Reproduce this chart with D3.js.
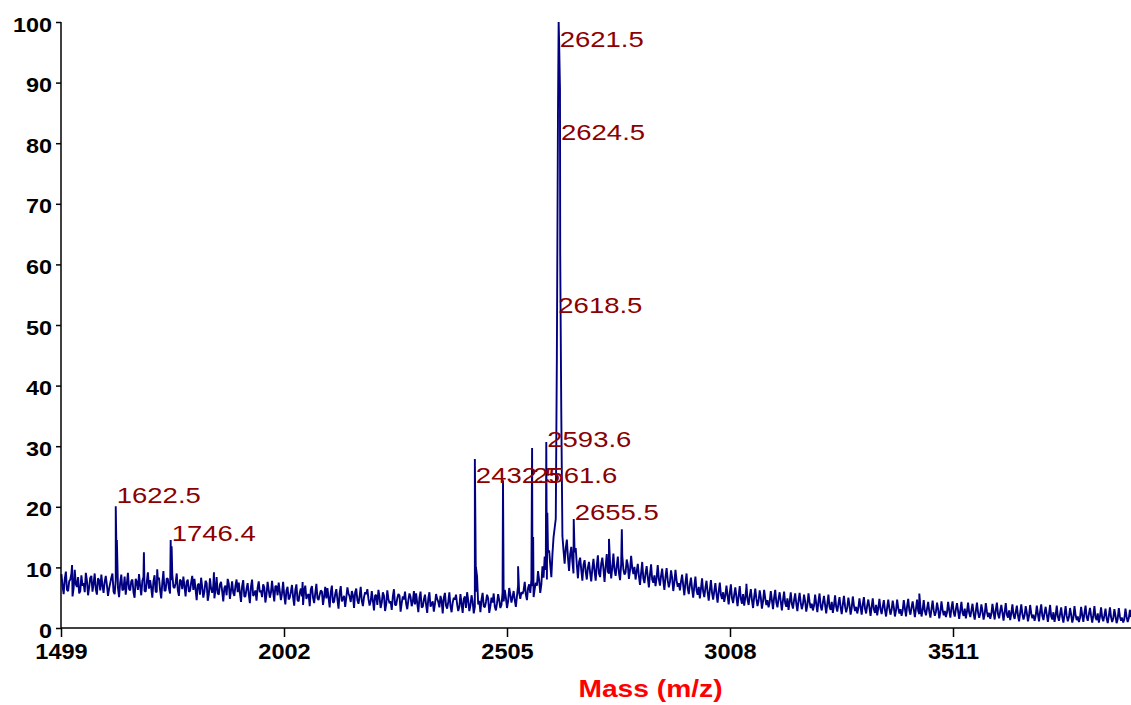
<!DOCTYPE html>
<html><head><meta charset="utf-8">
<script src="https://cdn.jsdelivr.net/npm/d3@7"></script>
<style>body{margin:0;background:#fff}svg{display:block}</style>
</head><body><div id="chart"></div>
<script>
// ---- data ----
// noise samples at m/z 1500, 1505, ... (series A) and 1502.5, 1507.5, ... (series B)
const mzStart = 1500, mzStep = 5, mzOffsetB = 2.5;
const noiseA = [
8.9,5.6,9.3,6.1,8.0,5.2,9.6,6.8,5.7,8.7,7.4,9.1,5.4,8.3,6.0,9.0,5.5,7.9,8.8,5.8,
8.6,5.3,7.4,9.0,5.6,8.2,5.1,8.8,6.4,5.5,9.1,6.2,8.0,5.0,7.6,8.9,5.4,8.4,6.0,9.2,
7.9,5.0,8.7,5.9,8.3,4.9,9.4,6.2,8.1,5.7,8.9,6.6,9.0,5.3,7.7,8.5,5.2,8.0,6.1,8.6,
8.1,4.6,7.3,8.3,5.0,7.8,4.5,8.2,5.8,4.9,8.4,5.5,7.6,4.4,7.0,8.1,4.8,7.7,5.3,8.0,
7.5,4.3,7.9,5.2,7.4,4.1,8.0,5.6,4.5,7.7,6.2,7.2,4.2,7.6,5.0,7.8,4.4,6.9,7.5,4.6,
7.6,3.9,6.8,5.0,7.1,3.7,7.2,4.4,6.5,3.8,7.0,5.4,3.6,6.9,4.1,7.3,4.6,6.2,3.8,6.8,
6.6,3.4,7.0,4.3,6.4,3.2,6.9,4.8,3.5,6.7,5.2,6.1,3.3,6.5,4.0,6.8,3.6,5.9,6.4,3.7,
6.1,2.9,5.4,6.3,3.3,5.9,2.8,6.2,4.1,3.0,6.4,3.8,5.6,2.7,5.2,6.0,3.1,5.7,3.6,6.1,
5.7,2.6,6.0,3.5,5.5,2.5,5.9,4.0,2.7,5.6,4.3,5.3,2.4,5.8,3.2,5.9,2.6,5.0,5.5,2.8,
5.6,2.5,5.2,5.9,2.8,5.4,2.4,6.0,3.9,2.6,5.8,3.4,5.5,2.5,5.0,5.7,2.9,5.6,3.3,5.9,
6.3,3.3,6.6,4.2,6.1,3.5,7.0,4.8,5.6,7.6,4.6,7.2,8.0,5.1,7.5,9.4,5.8,10.2,11.8,8.0,
12.8,8.4,15.0,18.0,85.0,62.0,15.2,10.6,14.6,9.4,13.4,9.0,13.2,8.2,11.6,7.8,11.2,8.0,10.9,7.7,
11.4,7.8,12.0,8.4,11.6,7.6,12.2,9.0,8.2,12.3,8.6,11.8,7.9,12.0,8.8,11.3,8.1,11.9,8.9,8.0,
10.6,7.1,10.9,7.4,10.2,6.7,10.5,7.5,6.9,10.4,7.0,9.8,6.3,9.9,6.7,9.5,6.1,9.6,6.8,6.2,
8.8,5.4,9.0,5.6,8.3,5.0,8.5,5.5,4.9,8.2,5.1,7.8,4.5,7.9,4.7,7.4,4.2,7.5,4.8,4.3,
7.0,3.9,7.2,4.1,6.7,3.6,6.9,4.0,3.7,6.8,3.8,6.4,3.3,6.5,3.6,6.2,3.2,6.3,3.8,3.4,
6.1,3.1,6.3,3.4,5.9,2.9,6.0,3.5,3.0,5.9,3.2,5.7,2.8,5.8,3.1,5.5,2.7,5.7,3.3,2.9,
5.5,2.6,5.7,2.9,5.3,2.4,5.5,3.0,2.5,5.4,2.7,5.1,2.3,5.3,2.6,5.0,2.2,5.2,2.8,2.4,
4.9,2.2,5.1,2.4,4.7,2.0,4.9,2.5,2.1,4.8,2.3,4.6,1.9,4.7,2.2,4.5,1.9,4.7,2.4,2.0,
4.6,1.9,4.8,2.2,4.4,1.8,4.7,2.3,1.9,4.6,2.1,4.3,1.7,4.5,2.0,4.2,1.6,4.4,2.1,1.8,
4.3,1.7,4.4,1.9,4.1,1.5,4.3,2.0,1.6,4.2,1.8,4.0,1.4,4.2,1.7,3.9,1.4,4.1,1.8,1.5,
4.0,1.4,4.2,1.6,3.8,1.2,4.1,1.7,1.3,3.9,1.5,3.7,1.1,3.9,1.4,3.6,1.1,3.8,1.6,1.2,
3.7,1.1,3.9,1.3,3.5,1.0,3.8,1.4,1.0,3.7,1.2,3.4,0.9,3.6,1.1,3.3,0.9,3.6,1.3,1.0,
3.5,1.0,3.7,1.2,3.3,0.9,3.6,1.3,0.9,3.4,1.1,3.2,0.8,3.4,1.0,3.1,0.8,3.3,1.2,0.9,3.2,1.0,3.0
];
const noiseB = [
6.9,8.1,6.3,7.7,9.0,6.6,7.2,8.4,6.1,7.0,5.9,7.8,6.7,8.6,7.3,6.4,8.2,6.2,7.0,7.6,
7.1,6.5,8.3,6.0,7.9,6.6,7.5,6.2,8.5,7.3,6.4,7.7,5.9,8.1,6.3,6.9,7.8,6.1,7.6,6.5,
6.6,7.7,6.0,8.0,6.3,7.4,6.1,8.2,6.5,7.9,6.8,7.4,6.2,8.0,6.4,6.9,7.6,6.0,7.5,6.3,
6.4,7.1,5.5,6.8,6.0,7.4,5.6,6.5,7.0,6.3,5.7,7.2,6.1,6.6,5.4,7.3,6.2,5.8,7.0,5.9,
5.8,6.9,5.2,6.5,5.6,6.8,5.3,6.2,6.6,5.9,5.1,6.7,5.5,6.3,5.8,6.0,6.9,5.4,6.1,5.7,
5.4,6.2,4.7,6.0,5.1,6.3,4.6,5.8,5.2,6.1,4.8,5.6,6.4,5.0,5.7,4.9,5.5,6.0,5.2,4.9,
5.0,5.9,4.2,5.6,4.7,5.8,4.4,5.3,5.0,5.7,4.3,5.4,5.9,4.6,5.2,4.5,5.1,5.6,4.8,4.4,
4.5,5.4,3.8,5.1,4.2,5.3,3.9,4.8,4.4,5.2,3.8,4.9,5.4,4.1,4.7,4.0,4.6,5.1,4.3,3.9,
4.1,5.0,3.4,4.7,3.8,4.9,3.5,4.4,4.0,4.8,3.4,4.5,5.0,3.7,4.3,3.6,4.2,4.7,3.9,3.5,
4.0,4.8,3.3,4.6,3.7,4.4,3.5,8.5,4.5,4.7,3.6,4.3,4.9,3.6,4.2,3.5,4.1,4.6,3.8,4.4,
5.0,4.4,5.5,5.1,4.6,5.3,5.8,5.9,6.2,5.5,6.6,5.8,6.9,6.4,7.0,7.9,7.2,8.3,9.6,12.5,
10.5,12.2,16.5,45.0,97.0,35.0,12.8,13.2,11.6,12.2,11.0,12.5,10.4,10.9,9.6,10.4,9.3,10.0,9.1,9.8,
9.4,10.3,9.0,10.6,9.8,10.1,9.3,10.7,10.0,9.6,10.2,9.1,10.5,9.7,9.2,10.4,9.5,9.9,10.1,9.3,
8.6,9.1,8.2,9.0,8.4,8.8,8.0,8.7,8.3,8.1,8.6,7.8,8.4,7.9,7.6,8.3,7.5,7.9,7.4,7.7,
7.0,7.5,6.6,7.2,6.4,6.9,6.2,6.8,6.5,6.0,6.6,5.9,6.3,5.8,6.1,5.6,6.0,5.5,5.9,5.4,
5.4,5.8,4.9,5.5,5.1,5.3,4.8,5.6,5.0,4.7,5.3,4.6,5.1,4.8,4.5,5.0,4.4,4.9,4.6,4.3,
4.6,5.0,4.2,4.8,4.4,4.6,4.1,4.9,4.3,4.0,4.6,4.0,4.5,4.2,3.9,4.4,3.8,4.3,4.0,3.7,
4.0,4.4,3.6,4.2,3.8,4.0,3.5,4.3,3.7,3.5,4.0,3.4,3.9,3.6,3.4,3.8,3.3,3.7,3.5,3.3,
3.5,3.9,3.2,3.7,3.4,3.5,3.1,3.8,3.3,3.1,3.5,3.0,3.4,3.2,3.0,3.4,2.9,3.3,3.1,2.9,
3.2,3.6,2.9,3.4,3.1,3.2,2.8,3.5,3.0,2.8,3.2,2.7,3.1,2.9,2.7,3.1,2.6,3.0,2.8,2.6,
2.9,3.3,2.6,3.1,2.8,2.9,2.5,3.2,2.7,2.5,2.9,2.4,2.8,2.6,2.4,2.8,2.3,2.7,2.5,2.3,
2.6,3.0,2.3,2.8,2.5,2.6,2.2,2.9,2.4,2.2,2.6,2.1,2.5,2.3,2.1,2.5,2.0,2.4,2.2,2.0,
2.3,2.7,2.0,2.5,2.2,2.3,1.9,2.6,2.1,1.9,2.3,1.8,2.2,2.0,1.8,2.2,1.7,2.1,1.9,1.7,
2.1,2.5,1.8,2.3,2.0,2.1,1.7,2.4,1.9,1.7,2.1,1.6,2.0,1.8,1.6,2.0,1.5,1.9,1.7,1.5,1.9,1.6,1.8
];
const peakMz  = [1524,1622.5,1625,1686,1716,1746.4,1748.5,1844,2044,2432.5,2435,2496,2530,2561.6,2564,2593.6,2596,2618.5,2621.5,2623,2624.5,2627,2655.5,2735,2764,3045,3435];
const peakInt = [10.4,20.1,14.5,12.5,9.7,14.5,13.5,9.2,7.6,27.9,10.0,24.4,10.2,29.7,15.0,30.7,19.0,61.0,100,95,89,40,18.0,14.7,16.3,7.3,5.7];
const labelText = ["1622.5","1746.4","2432.5","2561.6","2593.6","2618.5","2621.5","2624.5","2655.5"];
const labelMz   = [1622.5,1746.4,2432.5,2561.6,2593.6,2618.5,2621.5,2624.5,2655.5];
const labelInt  = [20.6,14.4,23.9,23.9,29.9,52.0,95.9,80.5,17.8];
const xMajor = [1499,2002,2505,3008,3511];
const xMinor = [1750.5,2253.5,2756.5,3259.5,3762.5];
const yMajor = [0,10,20,30,40,50,60,70,80,90,100];
const yMinor = [5,15,25,35,45,55,65,75,85,95];
const xTitle = "Mass (m/z)";

// ---- chart ----
const W = 1131, H = 705;
const svg = d3.select("#chart").append("svg").attr("width", W).attr("height", H);
svg.append("rect").attr("width", W).attr("height", H).attr("fill", "#fff");

const x = d3.scaleLinear().domain([1499, 3912.5]).range([61, 1131]);
const y = d3.scaleLinear().domain([0, 100]).range([628, 22]);

const pts = noiseA.map((v, i) => ({mz: mzStart + i * mzStep, v}))
  .concat(noiseB.map((v, i) => ({mz: mzStart + mzOffsetB + i * mzStep, v})))
  .concat(peakMz.map((m, i) => ({mz: m, v: peakInt[i]})))
  .sort((a, b) => a.mz - b.mz);

svg.append("path").datum(pts)
  .attr("fill", "none").attr("stroke", "#000080").attr("stroke-width", 1.9)
  .attr("stroke-linejoin", "bevel")
  .attr("d", d3.line().x(d => x(d.mz)).y(d => y(d.v)));

// axes
const gx = svg.append("g").attr("transform", `translate(0,${y(0)})`);
gx.call(d3.axisBottom(x).tickValues(xMinor).tickSize(5).tickFormat(""));
gx.call(d3.axisBottom(x).tickValues(xMajor).tickSize(9).tickSizeOuter(0).tickFormat(d3.format("d")));
gx.selectAll(".domain").remove();
gx.append("line").attr("x1", 61).attr("x2", 1131).attr("stroke", "#000").attr("stroke-width", 1.5);
gx.selectAll("line").attr("stroke", "#000").attr("stroke-width", 1.5);
gx.selectAll("text")
  .attr("y", null).attr("dy", null)
  .attr("transform", "translate(0,31) scale(1.07,1)")
  .attr("fill", "#000")
  .style("font-family", "Arial, 'Liberation Sans', sans-serif")
  .style("font-weight", "bold").style("font-size", "22px");

const gy = svg.append("g").attr("transform", `translate(${x(1499)},0)`);
gy.call(d3.axisLeft(y).tickValues(yMinor).tickSize(3).tickFormat(""));
gy.call(d3.axisLeft(y).tickValues(yMajor).tickSize(5).tickSizeOuter(0).tickFormat(d3.format("d")));
gy.selectAll(".domain").remove();
gy.append("line").attr("y1", y(0)).attr("y2", y(100)).attr("stroke", "#000").attr("stroke-width", 1.5);
gy.selectAll("line").attr("stroke", "#000").attr("stroke-width", 1.5);
gy.selectAll("text")
  .attr("x", null).attr("dy", null)
  .attr("transform", "translate(-9,9) scale(1.17,1)")
  .attr("fill", "#000")
  .style("font-family", "Arial, 'Liberation Sans', sans-serif")
  .style("font-weight", "bold").style("font-size", "20px");

// axis title
svg.append("text")
  .attr("transform", `translate(${(578 + 723) / 2},697) scale(1.2,1)`)
  .attr("text-anchor", "middle").attr("fill", "#ff0000")
  .style("font-family", "Arial, 'Liberation Sans', sans-serif")
  .style("font-weight", "bold").style("font-size", "23.5px")
  .text(xTitle);

// peak labels
svg.append("g").selectAll("text").data(labelText).join("text")
  .attr("transform", (d, i) => `translate(${x(labelMz[i]) + 1},${y(labelInt[i])}) scale(1.25,1)`)
  .attr("fill", "#8b0000")
  .style("font-family", "Arial, 'Liberation Sans', sans-serif")
  .style("font-size", "22px")
  .text(d => d);
</script></body></html>
